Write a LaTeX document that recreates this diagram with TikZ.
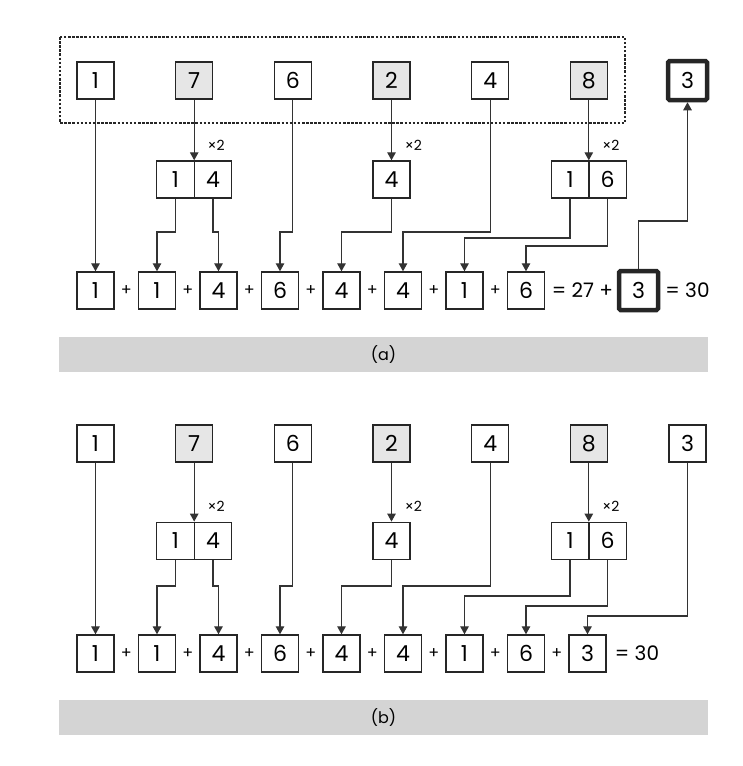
\documentclass[tikz,border=0pt]{standalone}
\usepackage{fontspec}
\setmainfont{Poppins}
\usetikzlibrary{arrows.meta}
\definecolor{boxline}{HTML}{262626}
\definecolor{boxgray}{HTML}{E6E6E6}
\definecolor{bargray}{HTML}{D4D4D4}
\definecolor{wire}{HTML}{333333}
\begin{document}
\begin{tikzpicture}[x=1pt,y=-1pt,
    num/.style={draw=boxline, line width=1.4pt, minimum width=37pt, minimum height=37pt,
      inner sep=0pt, font=\fontsize{22}{22}\selectfont},
    shade/.style={num, fill=boxgray},
    halfbox/.style={num, minimum width=37.5pt},
    heavy/.style={num, line width=4.5pt, minimum width=39pt, minimum height=39pt, rounded corners=1.5pt},
    plus/.style={inner sep=0pt, font=\fontsize{16}{16}\selectfont},
    op/.style={inner sep=0pt, font=\fontsize{20}{20}\selectfont},
    times/.style={inner sep=0pt, font=\fontsize{14}{14}\selectfont},
    caption/.style={inner sep=0pt, font=\fontsize{16}{16}\selectfont},
    arr/.style={draw=wire, line width=1.2pt, -{Triangle[length=8pt,width=8.5pt]}},
    frame/.style={draw=boxline, line width=1.4pt, dash pattern=on 2.5pt off 1.6pt}]
    \useasboundingbox (0,0) rectangle (743,766);
    % (a) top row
    \draw [frame] (60,37) rectangle (625,123);
    \node [num]   (ta1) at (95.5,80.5)  {1};
    \node [shade] (ta2) at (194.2,80.5) {7};
    \node [num]   (ta3) at (292.8,80.5) {6};
    \node [shade] (ta4) at (391.5,80.5) {2};
    \node [num]   (ta5) at (490.2,80.5) {4};
    \node [shade] (ta6) at (588.8,80.5) {8};
    \node [heavy] (ta7) at (687.5,80.5) {3};
    % (a) doubled digits
    \node [halfbox] (ma2l) at (175.45,179.5) {1};
    \node [halfbox] (ma2r) at (212.95,179.5) {4};
    \node [num]     (ma4)  at (391.5,179.5)  {4};
    \node [halfbox] (ma6l) at (570.05,179.5) {1};
    \node [halfbox] (ma6r) at (607.55,179.5) {6};
    \node [times] (xa2) at (216.2,145) {×2};
    \node [times] (xa4) at (413.5,145) {×2};
    \node [times] (xa6) at (610.8,145) {×2};
    % (a) sum row
    \node [num] (ba1) at (95.5,290.5)  {1};
    \node [num] (ba2) at (157,290.5)   {1};
    \node [num] (ba3) at (218.5,290.5) {4};
    \node [num] (ba4) at (280,290.5)   {6};
    \node [num] (ba5) at (341.5,290.5) {4};
    \node [num] (ba6) at (403,290.5)   {4};
    \node [num] (ba7) at (464.5,290.5) {1};
    \node [num] (ba8) at (526,290.5)   {6};
    \node [plus] (pa1) at (126.25,291) {+};
    \node [plus] (pa2) at (187.75,291) {+};
    \node [plus] (pa3) at (249.25,291) {+};
    \node [plus] (pa4) at (310.75,291) {+};
    \node [plus] (pa5) at (372.25,291) {+};
    \node [plus] (pa6) at (433.75,291) {+};
    \node [plus] (pa7) at (495.25,291) {+};
    \node [op] (suma) at (582.5,290.5) {= 27 +};
    \node [heavy] (ba9) at (638.5,290.5) {3};
    \node [op] (tota) at (687.5,290.5) {= 30};
    % (a) wires
    \draw [arr] (ta1) -- (ba1);
    \draw [arr] (ta2) -- (ta2 |- ma2l.north);
    \draw [arr] (ta4) -- (ma4);
    \draw [arr] (ta6) -- (ta6 |- ma6l.north);
    \draw [arr] (ma2l.south) -- (ma2l |- 0,232) -| (ba2);
    \draw [arr] (ma2r.south) -- (ma2r |- 0,232) -| (ba3);
    \draw [arr] (ta3.south) -- (ta3 |- 0,232) -| (ba4);
    \draw [arr] (ma4.south) -- (ma4 |- 0,232) -| (ba5);
    \draw [arr] (ta5.south) -- (ta5 |- 0,232) -| (ba6);
    \draw [arr] (ma6l.south) -- (ma6l |- 0,238) -| (ba7);
    \draw [arr] (ma6r.south) -- (ma6r |- 0,246) -| (ba8);
    \draw [arr] (ba9.north) -- (ba9 |- 0,221) -| (ta7);
    % (a) caption
    \fill [bargray] (59,337) rectangle (708,372);
    \node [caption] (capa) at (383.5,354.5) {(a)};
    % (b) top row
    \node [num]   (tb1) at (95.5,443.5)  {1};
    \node [shade] (tb2) at (194.2,443.5) {7};
    \node [num]   (tb3) at (292.8,443.5) {6};
    \node [shade] (tb4) at (391.5,443.5) {2};
    \node [num]   (tb5) at (490.2,443.5) {4};
    \node [shade] (tb6) at (588.8,443.5) {8};
    \node [num]   (tb7) at (687.5,443.5) {3};
    % (b) doubled digits
    \node [halfbox] (mb2l) at (175.45,540.8) {1};
    \node [halfbox] (mb2r) at (212.95,540.8) {4};
    \node [num]     (mb4)  at (391.5,540.8)  {4};
    \node [halfbox] (mb6l) at (570.05,540.8) {1};
    \node [halfbox] (mb6r) at (607.55,540.8) {6};
    \node [times] (xb2) at (216.2,506) {×2};
    \node [times] (xb4) at (413.5,506) {×2};
    \node [times] (xb6) at (610.8,506) {×2};
    % (b) sum row
    \node [num] (bb1) at (95.5,653.5)  {1};
    \node [num] (bb2) at (157,653.5)   {1};
    \node [num] (bb3) at (218.5,653.5) {4};
    \node [num] (bb4) at (280,653.5)   {6};
    \node [num] (bb5) at (341.5,653.5) {4};
    \node [num] (bb6) at (403,653.5)   {4};
    \node [num] (bb7) at (464.5,653.5) {1};
    \node [num] (bb8) at (526,653.5)   {6};
    \node [num] (bb9) at (587.5,653.5) {3};
    \node [plus] (pb1) at (126.25,654) {+};
    \node [plus] (pb2) at (187.75,654) {+};
    \node [plus] (pb3) at (249.25,654) {+};
    \node [plus] (pb4) at (310.75,654) {+};
    \node [plus] (pb5) at (372.25,654) {+};
    \node [plus] (pb6) at (433.75,654) {+};
    \node [plus] (pb7) at (495.25,654) {+};
    \node [plus] (pb8) at (556.75,654) {+};
    \node [op] (totb) at (637,653.5) {= 30};
    % (b) wires
    \draw [arr] (tb1) -- (bb1);
    \draw [arr] (tb2) -- (tb2 |- mb2l.north);
    \draw [arr] (tb4) -- (mb4);
    \draw [arr] (tb6) -- (tb6 |- mb6l.north);
    \draw [arr] (mb2l.south) -- (mb2l |- 0,586) -| (bb2);
    \draw [arr] (mb2r.south) -- (mb2r |- 0,586) -| (bb3);
    \draw [arr] (tb3.south) -- (tb3 |- 0,586) -| (bb4);
    \draw [arr] (mb4.south) -- (mb4 |- 0,586) -| (bb5);
    \draw [arr] (tb5.south) -- (tb5 |- 0,586) -| (bb6);
    \draw [arr] (mb6l.south) -- (mb6l |- 0,596) -| (bb7);
    \draw [arr] (mb6r.south) -- (mb6r |- 0,606) -| (bb8);
    \draw [arr] (tb7.south) -- (tb7 |- 0,616) -| (bb9);
    % (b) caption
    \fill [bargray] (59,700) rectangle (708,735);
    \node [caption] (capb) at (383.5,717.5) {(b)};
\end{tikzpicture}
\end{document}
